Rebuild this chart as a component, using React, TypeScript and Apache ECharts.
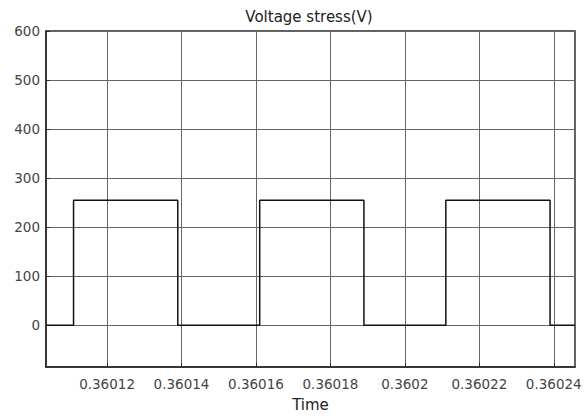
import React, { useEffect, useRef } from "react";
import * as echarts from "echarts";

// Switching edges of the voltage stress waveform (seconds)
const riseTimes = [0.360111, 0.360161, 0.360211];
const fallTimes = [0.360139, 0.360189, 0.360239];
const highLevel = 255;
const lowLevel = 0;
const timeStart = 0.3601036;
const timeEnd = 0.3602457;
const yMin = -85;
const yMax = 600;

function buildSeries(): [number, number][] {
  const pts: [number, number][] = [[timeStart, lowLevel]];
  for (let i = 0; i < riseTimes.length; i++) {
    pts.push([riseTimes[i], highLevel]);
    pts.push([fallTimes[i], lowLevel]);
  }
  pts.push([timeEnd, lowLevel]);
  return pts;
}

const FONT = "DejaVu Sans";

export default function App() {
  const ref = useRef<HTMLDivElement>(null);
  useEffect(() => {
    if (!ref.current) return;
    const chart = echarts.init(ref.current, undefined, { renderer: "svg" });
    chart.setOption({
      animation: false,
      backgroundColor: "#ffffff",
      grid: {
        left: 46,
        right: 12,
        top: 31,
        bottom: 50,
        show: true,
        borderColor: "#2a2a2a",
        borderWidth: 1.5,
        backgroundColor: "#ffffff",
      },
      graphic: [
        {
          type: "text",
          x: 309,
          y: 17,
          style: {
            text: "Voltage stress(V)",
            align: "center",
            verticalAlign: "middle",
            fontFamily: FONT,
            fontSize: 15,
            fill: "#222",
          },
        },
      ],
      xAxis: {
        type: "value",
        min: timeStart,
        max: timeEnd,
        splitNumber: 7,
        name: "Time",
        nameLocation: "middle",
        nameGap: 30,
        nameTextStyle: { fontFamily: FONT, fontSize: 15, color: "#222" },
        axisLine: { show: true, onZero: false, lineStyle: { color: "#2a2a2a", width: 1.5 } },
        axisTick: { show: true, inside: true, length: 4, lineStyle: { color: "#2a2a2a" } },
        axisLabel: {
          margin: 10,
          fontFamily: FONT,
          fontSize: 13.5,
          color: "#444",
          showMinLabel: false,
          showMaxLabel: false,
          formatter: (v: number) => String(parseFloat(v.toFixed(5))),
        },
        splitLine: { show: true, lineStyle: { color: "#666", width: 1 } },
      },
      yAxis: {
        type: "value",
        min: yMin,
        max: yMax,
        splitNumber: 7,
        axisLine: { show: true, onZero: false, lineStyle: { color: "#2a2a2a", width: 1.5 } },
        axisTick: { show: true, inside: true, length: 4, lineStyle: { color: "#2a2a2a" } },
        axisLabel: {
          margin: 6,
          fontFamily: FONT,
          fontSize: 13.5,
          color: "#444",
          showMinLabel: false,
        },
        splitLine: { show: true, lineStyle: { color: "#666", width: 1 } },
      },
      series: [
        {
          type: "line",
          step: "end",
          data: buildSeries(),
          showSymbol: false,
          lineStyle: { color: "#111", width: 1.5 },
        },
      ],
    });
    return () => chart.dispose();
  }, []);
  return (
    <div
      ref={ref}
      style={{ position: "fixed", left: 0, top: 0, width: 587, height: 417 }}
    />
  );
}
